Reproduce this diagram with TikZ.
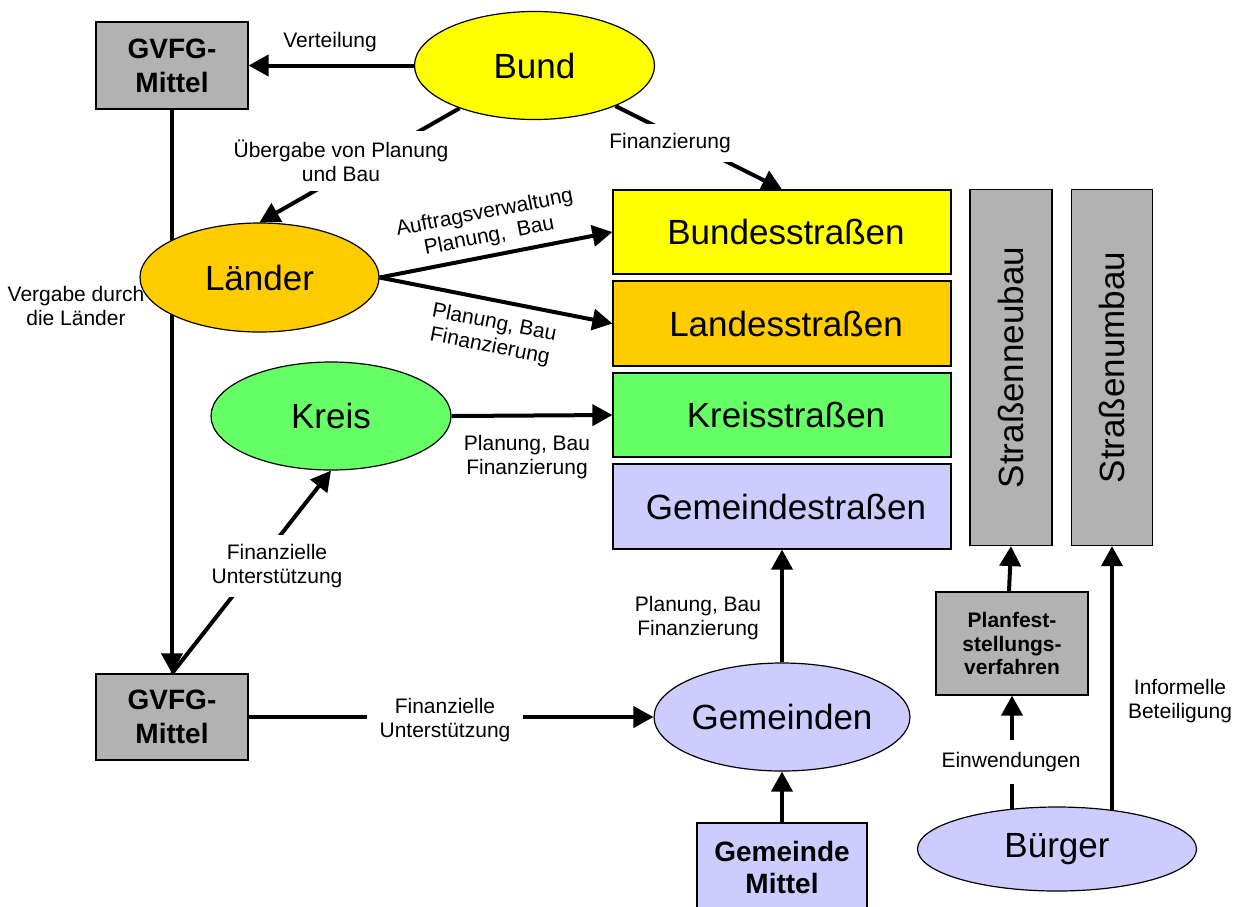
\documentclass[tikz,border=0pt]{standalone}
\usepackage{fontspec}
\setmainfont{Liberation Sans}
\usetikzlibrary{shapes.geometric,arrows.meta}
\pgfdeclarelayer{bg}
\pgfsetlayers{bg,main}
\definecolor{cgray}{HTML}{B2B2B2}
\definecolor{cyellow}{HTML}{FFFF00}
\definecolor{corange}{HTML}{FFCC00}
\definecolor{cgreen}{HTML}{66FF66}
\definecolor{clav}{HTML}{CCCCFF}
\begin{document}
\begin{tikzpicture}[x=1pt,y=-1pt,
  big/.style={font=\fontsize{35}{40}\selectfont},
  lbl/.style={font=\fontsize{21}{24}\selectfont, align=center, inner sep=0pt},
  wlbl/.style={lbl, fill=white, inner sep=9pt},
  ell/.style={ellipse, draw=black, line width=1.2pt, inner sep=0pt, big},
  box/.style={rectangle, draw=black, line width=1.2pt, inner sep=0pt},
  boldbox/.style={box, fill=cgray, align=center, font=\bfseries\fontsize{28}{34}\selectfont},
  road/.style={box, minimum width=338pt, big},
  vbox/.style={box, fill=cgray, rotate=90, minimum width=356pt, big},
  arr/.style={line width=4pt, -{Triangle[length=20pt,width=21pt]}}]
\useasboundingbox (0,0) rectangle (1238,906);

% label lying under the Laender ellipse
\node[lbl] (vergabe) at (76,306) {Vergabe durch\\die Länder};

% nodes
\node[boldbox, minimum width=152pt, minimum height=87pt] (gvfg1) at (172,65.5) {GVFG-\\Mittel};
\node[boldbox, minimum width=152pt, minimum height=86pt] (gvfg2) at (172,717) {GVFG-\\Mittel};
\node[ell, fill=cyellow, minimum width=240pt, minimum height=108pt] (bund) at (534.5,65.5) {Bund};
\node[ell, fill=corange, minimum width=239pt, minimum height=109pt] (laender) at (259.5,277.5) {Länder};
\node[ell, fill=cgreen, minimum width=240pt, minimum height=108pt] (kreis) at (331,416) {Kreis};
\node[ell, fill=clav, minimum width=237pt, minimum height=108pt] (gemeinden) at (782,717) {Gemeinden};
\node[ell, fill=clav, minimum width=279pt, minimum height=84pt] (buerger) at (1057,849) {Bürger};

\node[road, fill=cyellow, minimum height=84pt] (bs) at (782,232) {\hspace{8pt}Bundesstraßen};
\node[road, fill=corange, minimum height=85pt] (ls) at (782,323.5) {\hspace{8pt}Landesstraßen};
\node[road, fill=cgreen, minimum height=84pt] (ks) at (782,415) {\hspace{8pt}Kreisstraßen};
\node[road, fill=clav, minimum height=85pt] (gs) at (782,506.5) {\hspace{8pt}Gemeindestraßen};

% rotated boxes: their local "west" is the bottom side on the page
\node[vbox, minimum height=82pt] (neubau) at (1011,367.5) {Straßenneubau};
\node[vbox, minimum height=81pt] (umbau) at (1112,367.5) {Straßenumbau};

\node[box, fill=cgray, minimum width=152pt, minimum height=103pt, align=center,
  font=\bfseries\fontsize{21}{23.5}\selectfont] (pf) at (1012,643.5) {Planfest-\\stellungs-\\verfahren};
\node[box, fill=clav, minimum width=170pt, minimum height=88pt, align=center,
  font=\bfseries\fontsize{28}{32}\selectfont] (gm) at (782,867) {Gemeinde\\Mittel};

% connectors
\begin{pgfonlayer}{bg}
\draw[arr] (bund.west) -- (gvfg1.east);
\draw[arr] (bund) -- (laender.north);
\draw[arr] (bund) -- (bs.north);
\draw[arr] (gvfg1.south) -- (gvfg2.north);
\draw[arr] (gvfg2.north) -- (kreis.south);
\draw[arr] (laender.east) -- (bs.west);
\draw[arr] (laender.east) -- (ls.west);
\draw[arr] (kreis.east) -- (ks.west);
\draw[arr] (gvfg2.east) -- (gemeinden.west);
\draw[arr] (gemeinden.north) -- (gs.south);
\draw[arr] (gm.north) -- (gemeinden.south);
\draw[arr] ([xshift=-3pt]pf.north) -- (neubau.west);
\draw[arr] (buerger.center -| pf.south) -- (pf.south);
\draw[arr] (buerger.center -| umbau.west) -- (umbau.west);
\end{pgfonlayer}

% labels
\node[lbl] (verteilung) at (330,42) {Verteilung};
\node[wlbl] (uebergabe) at (341,161) {Übergabe von Planung\\und Bau};
\node[wlbl] (finTop) at (670,143) {Finanzierung};
\node[lbl, rotate=11] (auftrag) at (487,225) {Auftragsverwaltung\\Planung,\ \ Bau};
\node[lbl, rotate=-11] (lsLbl) at (492,335) {Planung, Bau\\Finanzierung};
\node[lbl] (ksLbl) at (527,457) {Planung, Bau\\Finanzierung};
\node[wlbl] (finKreis) at (277,566) {Finanzielle\\Unterstützung};
\node[wlbl, inner xsep=13pt] (finGem) at (445,720) {Finanzielle\\Unterstützung};
\node[lbl] (gsLbl) at (698,618) {Planung, Bau\\Finanzierung};
\node[wlbl, inner sep=12pt] (einw) at (1011,762) {Einwendungen};
\node[lbl] (informell) at (1180,701) {Informelle\\Beteiligung};
\end{tikzpicture}
\end{document}
